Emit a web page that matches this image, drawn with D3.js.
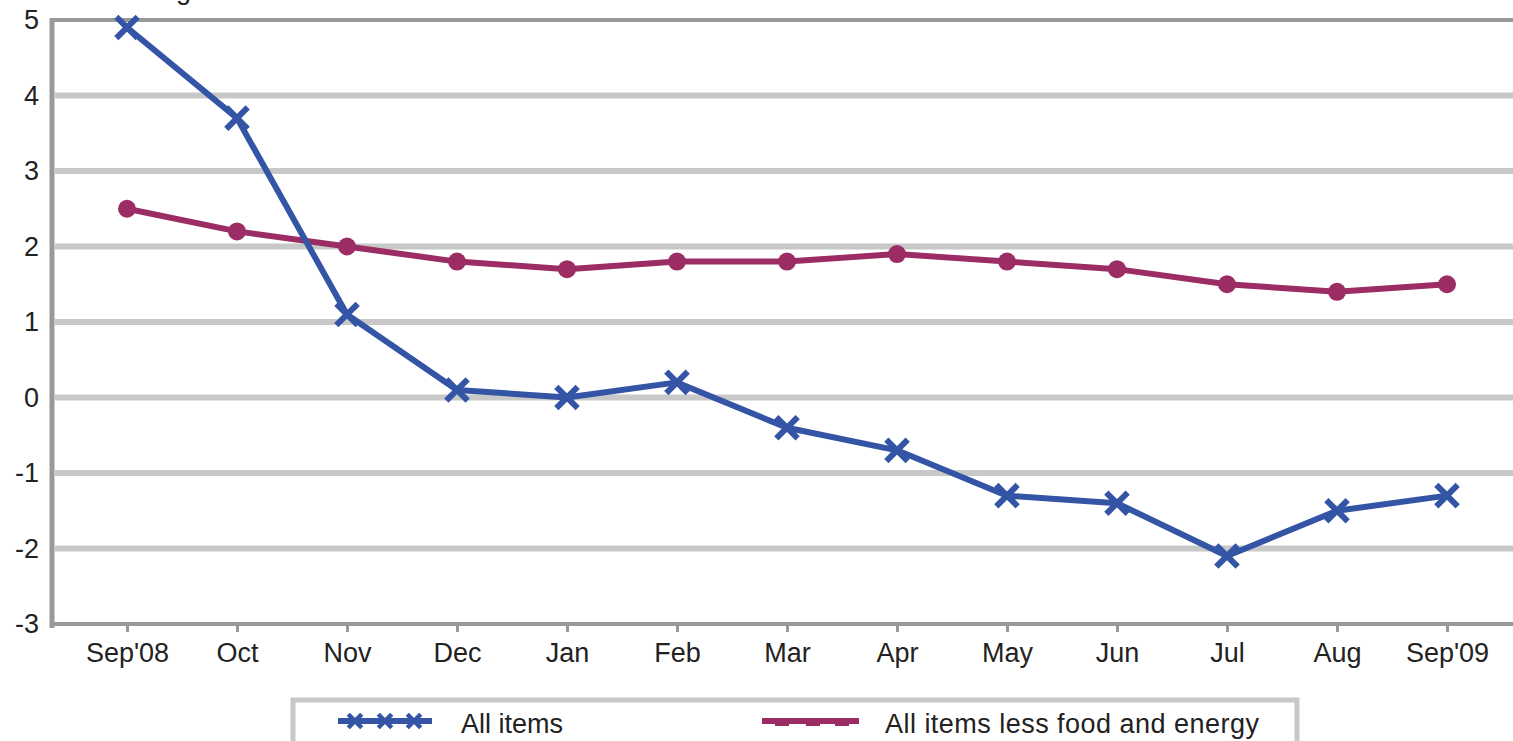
<!DOCTYPE html>
<html>
<head>
<meta charset="utf-8">
<script src="https://cdn.jsdelivr.net/npm/d3@7"></script>
<style>
  html, body { margin: 0; padding: 0; background: #fff; overflow: hidden; }
  svg { display: block; font-family: "Liberation Sans", Arial, sans-serif; }
</style>
</head>
<body>
<svg id="chart" width="1513" height="741"></svg>
<script>
// Months, Sep 2008 – Sep 2009
const months = ["Sep'08", "Oct", "Nov", "Dec", "Jan", "Feb", "Mar", "Apr", "May", "Jun", "Jul", "Aug", "Sep'09"];
// 12-month percent change, all items
const allItems = [4.9, 3.7, 1.1, 0.1, 0.0, 0.2, -0.4, -0.7, -1.3, -1.4, -2.1, -1.5, -1.3];
// 12-month percent change, all items less food and energy
const coreItems = [2.5, 2.2, 2.0, 1.8, 1.7, 1.8, 1.8, 1.9, 1.8, 1.7, 1.5, 1.4, 1.5];
const yTicks = [-3, -2, -1, 0, 1, 2, 3, 4, 5];
const seriesNames = ["All items", "All items less food and energy"];

const BLUE = "#3455a5";
const PURPLE = "#9b2d64";
const AXIS = "#999999";
const GRID = "#c8c8c8";
const TEXT = "#222222";

const svg = d3.select("#chart");
const W = 1513;

const x = d3.scalePoint().domain(months).range([127, 1447]);
const y = d3.scaleLinear().domain([-3, 5]).range([624, 20]);

// unit label above the plot (mostly outside the canvas)
svg.append("text")
  .attr("x", 17).attr("y", -1)
  .attr("font-size", 27).attr("fill", TEXT)
  .text("Percent change");

// horizontal gridlines
svg.append("g").selectAll("line")
  .data(yTicks.filter(v => v > -3 && v < 5))
  .join("line")
  .attr("x1", 55).attr("x2", W)
  .attr("y1", d => y(d)).attr("y2", d => y(d))
  .attr("stroke", GRID).attr("stroke-width", 6);

// top frame line and bottom axis line
svg.append("line")
  .attr("x1", 50).attr("x2", W).attr("y1", y(5)).attr("y2", y(5))
  .attr("stroke", AXIS).attr("stroke-width", 4);
svg.append("line")
  .attr("x1", 50).attr("x2", W).attr("y1", y(-3)).attr("y2", y(-3))
  .attr("stroke", AXIS).attr("stroke-width", 4);
// left axis line
svg.append("line")
  .attr("x1", 52).attr("x2", 52).attr("y1", y(5) - 2).attr("y2", y(-3) + 4)
  .attr("stroke", AXIS).attr("stroke-width", 5);

// y axis labels (plain hyphen for negatives)
const yAxis = svg.append("g")
  .attr("transform", "translate(52,0)")
  .call(d3.axisLeft(y).tickValues(yTicks).tickSize(0).tickPadding(13).tickFormat(d => String(d)));
yAxis.select(".domain").remove();
yAxis.selectAll("text")
  .attr("font-size", 27).attr("fill", TEXT)
  .attr("font-family", "Liberation Sans, Arial, sans-serif");

// x axis ticks and labels
const xAxis = svg.append("g")
  .attr("transform", `translate(0,${y(-3) + 2})`)
  .call(d3.axisBottom(x).tickSize(6).tickPadding(11));
xAxis.select(".domain").remove();
xAxis.selectAll("line").attr("stroke", AXIS).attr("stroke-width", 3);
xAxis.selectAll("text")
  .attr("font-size", 27).attr("fill", TEXT)
  .attr("font-family", "Liberation Sans, Arial, sans-serif");

const line = d3.line()
  .x((d, i) => x(months[i]))
  .y(d => y(d));

// core series
svg.append("path")
  .datum(coreItems)
  .attr("d", line)
  .attr("fill", "none").attr("stroke", PURPLE).attr("stroke-width", 6)
  .attr("stroke-linejoin", "round");
svg.append("g").selectAll("circle")
  .data(coreItems)
  .join("circle")
  .attr("cx", (d, i) => x(months[i]))
  .attr("cy", d => y(d))
  .attr("r", 9)
  .attr("fill", PURPLE);

// all items series
svg.append("path")
  .datum(allItems)
  .attr("d", line)
  .attr("fill", "none").attr("stroke", BLUE).attr("stroke-width", 6)
  .attr("stroke-linejoin", "round");
const xMark = d3.symbol().type(d3.symbolX).size(300);
svg.append("g").selectAll("path")
  .data(allItems)
  .join("path")
  .attr("d", xMark)
  .attr("transform", (d, i) => `translate(${x(months[i])},${y(d)})`)
  .attr("fill", "none").attr("stroke", BLUE).attr("stroke-width", 6);

// legend
const legend = svg.append("g");
legend.append("rect")
  .attr("x", 293).attr("y", 700).attr("width", 1004).attr("height", 80)
  .attr("fill", "none").attr("stroke", GRID).attr("stroke-width", 5);

const legendItems = [
  { name: seriesNames[0], color: BLUE, x1: 338, x2: 432, marks: [355, 385, 414], tx: 461, kind: "x" },
  { name: seriesNames[1], color: PURPLE, x1: 762, x2: 859, marks: [782, 813, 842], tx: 885, kind: "o" }
];
legendItems.forEach(it => {
  legend.append("line")
    .attr("x1", it.x1).attr("x2", it.x2).attr("y1", 721).attr("y2", 721)
    .attr("stroke", it.color).attr("stroke-width", 6);
  if (it.kind === "x") {
    legend.selectAll(null).data(it.marks).join("path")
      .attr("d", d3.symbol().type(d3.symbolX).size(120))
      .attr("transform", m => `translate(${m},721)`)
      .attr("fill", "none").attr("stroke", it.color).attr("stroke-width", 4.5);
  } else {
    legend.selectAll(null).data(it.marks).join("rect")
      .attr("x", m => m - 7).attr("y", 721).attr("width", 14).attr("height", 5)
      .attr("fill", it.color);
  }
  legend.append("text")
    .attr("x", it.tx).attr("y", 733)
    .attr("font-size", 27).attr("fill", TEXT)
    .attr("textLength", it.kind === "x" ? 102 : 374)
    .text(it.name);
});
</script>
</body>
</html>
